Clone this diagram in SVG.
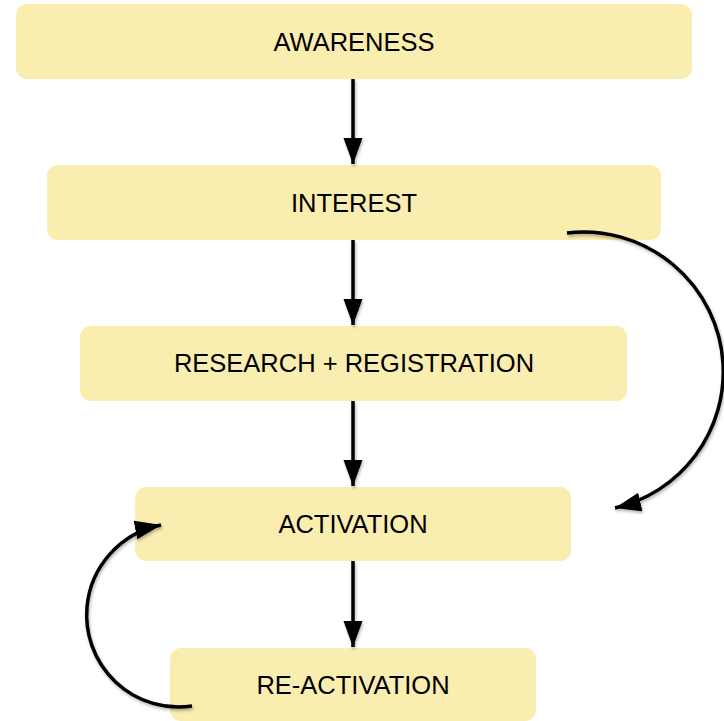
<svg xmlns="http://www.w3.org/2000/svg" width="724" height="721" viewBox="0 0 724 721">
<style>
.box{fill:#F9EDB0;}
.lbl{font-family:"Liberation Sans",Arial,Helvetica,sans-serif;font-size:25.5px;fill:#000;text-anchor:middle;dominant-baseline:central;}
.edge{fill:none;stroke:#000;stroke-width:3.5;marker-end:url(#ah);}
</style>
<defs>
<marker id="ah" markerUnits="userSpaceOnUse" markerWidth="27" markerHeight="21" refX="26" refY="9.5" orient="auto">
<path d="M0,0 L26,9.5 L0,19 z" fill="#000"/>
</marker>
<filter id="sh" x="-10%" y="-10%" width="130%" height="130%">
<feDropShadow dx="1" dy="2" stdDeviation="1.5" flood-color="#000" flood-opacity="0.3"/>
</filter>
</defs>
<g id="awareness"><rect class="box" x="16" y="4" width="676" height="75" rx="11"/><text class="lbl" x="354" y="42">AWARENESS</text></g>
<g id="interest"><rect class="box" x="47" y="165" width="614" height="75" rx="11"/><text class="lbl" x="354" y="203">INTEREST</text></g>
<g id="research"><rect class="box" x="80" y="326" width="547" height="75" rx="11"/><text class="lbl" x="354" y="363">RESEARCH + REGISTRATION</text></g>
<g id="activation"><rect class="box" x="135" y="487" width="436" height="74" rx="11"/><text class="lbl" x="353" y="524">ACTIVATION</text></g>
<g id="reactivation"><rect class="box" x="170" y="648" width="366" height="73" rx="11"/><text class="lbl" x="353" y="685">RE-ACTIVATION</text></g>
<g id="connectors" filter="url(#sh)">
<path class="edge" d="M353,79 L353,164"/>
<path class="edge" d="M353,240 L353,325"/>
<path class="edge" d="M353,401 L353,486"/>
<path class="edge" d="M353,561 L353,647"/>
<path class="edge" d="M567,233 A140,140 0 0 1 723,363 A140,140 0 0 1 615,508"/>
<path class="edge" d="M192,706 A92,92 0 0 1 87,607 A92,92 0 0 1 161,525"/>
</g>
</svg>
